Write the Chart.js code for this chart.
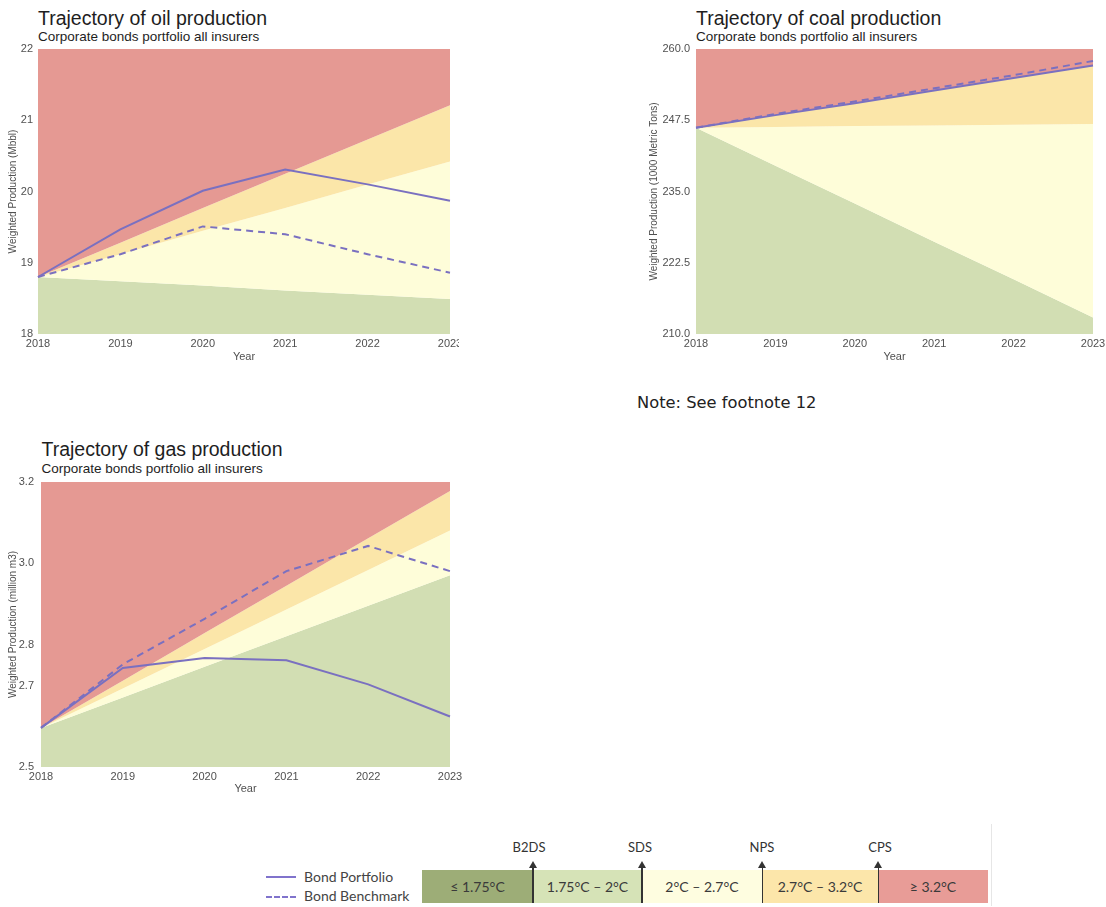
<!DOCTYPE html>
<html>
<head>
<meta charset="utf-8">
<script src="https://cdn.jsdelivr.net/npm/chart.js@4.4.1/dist/chart.umd.min.js"></script>
<style>
  html, body { margin: 0; padding: 0; background: #ffffff; }
  body { width: 1106px; height: 907px; position: relative; overflow: hidden; font-family: "Liberation Sans", Arial, sans-serif; }
  canvas { position: absolute; }
  .ttl { position: absolute; font-size: 19.5px; line-height: 19.5px; color: #1e1e1e; white-space: nowrap; }
  .sub { position: absolute; font-size: 13.5px; line-height: 13.5px; color: #1e1e1e; white-space: nowrap; }
  .note { position: absolute; left: 637px; top: 395px; font-family: "DejaVu Sans", Verdana, sans-serif; font-size: 16.3px; line-height: 16px; color: #222; white-space: nowrap; }
  .lg { position: absolute; font-family: Lato, "Open Sans", sans-serif; color: #444; white-space: nowrap; }
  .box { position: absolute; top: 870px; height: 33px; font-family: Lato, "Open Sans", sans-serif; font-size: 14px; color: #3a3a3a; display: flex; align-items: center; justify-content: center; }
  .arrow { position: absolute; top: 865px; width: 1.5px; height: 38px; background: #333; }
  .head { position: absolute; top: 861px; width: 0; height: 0; border-left: 4px solid transparent; border-right: 4px solid transparent; border-bottom: 7px solid #333; }
  .alab { position: absolute; top: 839px; font-family: Lato, "Open Sans", sans-serif; font-size: 13px; color: #333; transform: translateX(-50%); white-space: nowrap; }
</style>
</head>
<body>

<div class="ttl" style="left:38px; top:8.5px;">Trajectory of oil production</div>
<div class="sub" style="left:38px; top:29.6px;">Corporate bonds portfolio all insurers</div>
<canvas id="oil" width="459" height="326" style="left:0px; top:40px;"></canvas>

<div class="ttl" style="left:696px; top:8.5px;">Trajectory of coal production</div>
<div class="sub" style="left:696px; top:30px;">Corporate bonds portfolio all insurers</div>
<canvas id="coal" width="466" height="326" style="left:640px; top:40px;"></canvas>

<div class="note">Note: See footnote 12</div>

<div class="ttl" style="left:41.5px; top:439.5px;">Trajectory of gas production</div>
<div class="sub" style="left:41.5px; top:461.6px;">Corporate bonds portfolio all insurers</div>
<canvas id="gas" width="470" height="323" style="left:0px; top:475px;"></canvas>

<!-- legend -->
<div style="position:absolute; left:266px; top:875.5px; width:30px; height:2.5px; background:#8073cc;"></div>
<div class="lg" style="left:304px; top:868px; font-size:14px;">Bond Portfolio</div>
<div style="position:absolute; left:266px; top:895.5px; width:30px; height:0; border-top:2.5px dashed #8073cc;"></div>
<div class="lg" style="left:304px; top:887px; font-size:14px;">Bond Benchmark</div>

<div style="position:absolute; left:991px; top:824px; width:1px; height:82px; background:#e6e6e6;"></div>
<div class="box" style="left:422px; width:111px; background:#9dad77;">≤ 1.75°C</div>
<div class="box" style="left:533px; width:109px; background:#d6e3b7;">1.75°C – 2°C</div>
<div class="box" style="left:642px; width:120px; background:#fefde0;">2°C – 2.7°C</div>
<div class="box" style="left:762px; width:116px; background:#fce6aa;">2.7°C – 3.2°C</div>
<div class="box" style="left:878px; width:110px; background:#e89c97;">≥ 3.2°C</div>

<div class="arrow" style="left:532px;"></div><div class="head" style="left:528.7px;"></div><div class="alab" style="left:529px;">B2DS</div>
<div class="arrow" style="left:641px;"></div><div class="head" style="left:637.7px;"></div><div class="alab" style="left:640px;">SDS</div>
<div class="arrow" style="left:761.5px;"></div><div class="head" style="left:758.2px;"></div><div class="alab" style="left:762px;">NPS</div>
<div class="arrow" style="left:877.5px;"></div><div class="head" style="left:874.2px;"></div><div class="alab" style="left:880px;">CPS</div>

<script>
// ---------- shared ----------
const years = ["2018", "2019", "2020", "2021", "2022", "2023"];

// ---------- oil (Mbbl) ----------
const oilPortfolio = [18.8, 19.47, 20.01, 20.31, 20.10, 19.87];
const oilBenchmark = [18.8, 19.12, 19.51, 19.40, 19.12, 18.86];
const oilGreenTop  = [18.8, 18.74, 18.68, 18.61, 18.55, 18.49];
const oilYellowTop = [18.8, 19.12, 19.45, 19.77, 20.10, 20.42];
const oilOrangeTop = [18.8, 19.28, 19.77, 20.25, 20.73, 21.21];
const oilRedTop    = [22, 22, 22, 22, 22, 22];
const oilTicks     = [18, 19, 20, 21, 22];

// ---------- coal (1000 Metric Tons) ----------
const coalPortfolio = [246.2, 248.4, 250.5, 252.7, 254.9, 257.1];
const coalBenchmark = [246.2, 248.6, 250.8, 253.1, 255.4, 257.9];
const coalGreenTop  = [246.2, 239.5, 232.9, 226.2, 219.6, 212.9];
const coalYellowTop = [246.2, 246.3, 246.5, 246.6, 246.7, 246.85];
const coalOrangeTop = [246.2, 248.4, 250.5, 252.7, 254.9, 257.0];
const coalRedTop    = [260, 260, 260, 260, 260, 260];
const coalTicks     = [210, 222.5, 235, 247.5, 260];

// ---------- gas (million m3) ----------
const gasPortfolio = [2.596, 2.743, 2.768, 2.762, 2.703, 2.624];
const gasBenchmark = [2.596, 2.752, 2.864, 2.981, 3.043, 2.981];
const gasGreenTop  = [2.596, 2.671, 2.746, 2.821, 2.896, 2.971];
const gasYellowTop = [2.596, 2.693, 2.790, 2.887, 2.984, 3.081];
const gasOrangeTop = [2.596, 2.712, 2.829, 2.945, 3.062, 3.178];
const gasRedTop    = [3.2, 3.2, 3.2, 3.2, 3.2, 3.2];
const gasTicks     = [2.5, 2.7, 2.8, 3.0, 3.2];

// ---------- styling ----------
const LINE = '#7a70c0';
const C_GREEN = '#d2deb3', C_YELLOW = '#fefdd9', C_ORANGE = '#fbe6a9', C_RED = '#e59993';
const TICK_COLOR = '#505050';

function zone(data, color, fill, order) {
  return { data, fill, backgroundColor: color, borderWidth: 0, borderColor: 'rgba(0,0,0,0)',
           pointRadius: 0, pointHoverRadius: 0, tension: 0, order };
}
function series(data, dash) {
  return { data, fill: false, borderColor: LINE, borderWidth: 2, borderDash: dash,
           pointRadius: 0, pointHoverRadius: 0, tension: 0, order: 0 };
}
function noPad(s) { s.paddingTop = 0; s.paddingBottom = 0; s.paddingLeft = 0; s.paddingRight = 0; }

function makeChart(id, opts) {
  return new Chart(document.getElementById(id), {
    type: 'line',
    data: {
      labels: years,
      datasets: [
        series(opts.portfolio, []),
        series(opts.benchmark, [7, 5]),
        zone(opts.green, C_GREEN, 'start', 4),
        zone(opts.yellow, C_YELLOW, '-1', 3),
        zone(opts.orange, C_ORANGE, '-1', 2),
        zone(opts.red, C_RED, '-1', 1)
      ]
    },
    options: {
      responsive: false,
      animation: false,
      events: [],
      layout: { padding: { top: opts.padTop, right: opts.padRight, left: 0, bottom: 0 } },
      plugins: { legend: { display: false }, tooltip: { enabled: false }, title: { display: false } },
      scales: {
        x: {
          type: 'category',
          offset: false,
          grid: { display: false, drawTicks: false },
          border: { display: false },
          ticks: { color: TICK_COLOR, font: { family: 'Liberation Sans', size: 11 }, padding: 3, maxRotation: 0, autoSkip: false },
          title: { display: true, text: 'Year', color: TICK_COLOR, font: { family: 'Liberation Sans', size: 11 }, padding: { top: 0, bottom: 2 } },
          afterFit: (s) => { s.height = opts.xHeight; noPad(s); }
        },
        y: {
          min: opts.min, max: opts.max,
          grid: { display: false, drawTicks: false },
          border: { display: false },
          afterBuildTicks: (s) => { s.ticks = opts.ticks.map(v => ({ value: v })); },
          ticks: {
            color: TICK_COLOR, font: { family: 'Liberation Sans', size: 11 }, padding: opts.tickPad,
            callback: (v) => Number(v).toFixed(opts.decimals)
          },
          title: { display: true, text: opts.yTitle, color: TICK_COLOR, font: { family: 'Liberation Sans', size: 10 }, padding: { top: opts.titlePad, bottom: 0 } },
          afterFit: (s) => { s.width = opts.yWidth; noPad(s); }
        }
      }
    }
  });
}

makeChart('oil', {
  portfolio: oilPortfolio, benchmark: oilBenchmark,
  green: oilGreenTop, yellow: oilYellowTop, orange: oilOrangeTop, red: oilRedTop,
  ticks: oilTicks, min: 18, max: 22, decimals: 0,
  yTitle: 'Weighted Production (Mbbl)',
  padTop: 9, padRight: 9, xHeight: 32, yWidth: 38, tickPad: 5, titlePad: 7
});

makeChart('coal', {
  portfolio: coalPortfolio, benchmark: coalBenchmark,
  green: coalGreenTop, yellow: coalYellowTop, orange: coalOrangeTop, red: coalRedTop,
  ticks: coalTicks, min: 210, max: 260, decimals: 1,
  yTitle: 'Weighted Production (1000 Metric Tons)',
  padTop: 9, padRight: 13, xHeight: 32, yWidth: 56, tickPad: 6, titlePad: 8
});

makeChart('gas', {
  portfolio: gasPortfolio, benchmark: gasBenchmark,
  green: gasGreenTop, yellow: gasYellowTop, orange: gasOrangeTop, red: gasRedTop,
  ticks: gasTicks, min: 2.5, max: 3.2, decimals: 1,
  yTitle: 'Weighted Production (million m3)',
  padTop: 7, padRight: 20, xHeight: 31, yWidth: 41, tickPad: 7, titlePad: 7
});
</script>
</body>
</html>
